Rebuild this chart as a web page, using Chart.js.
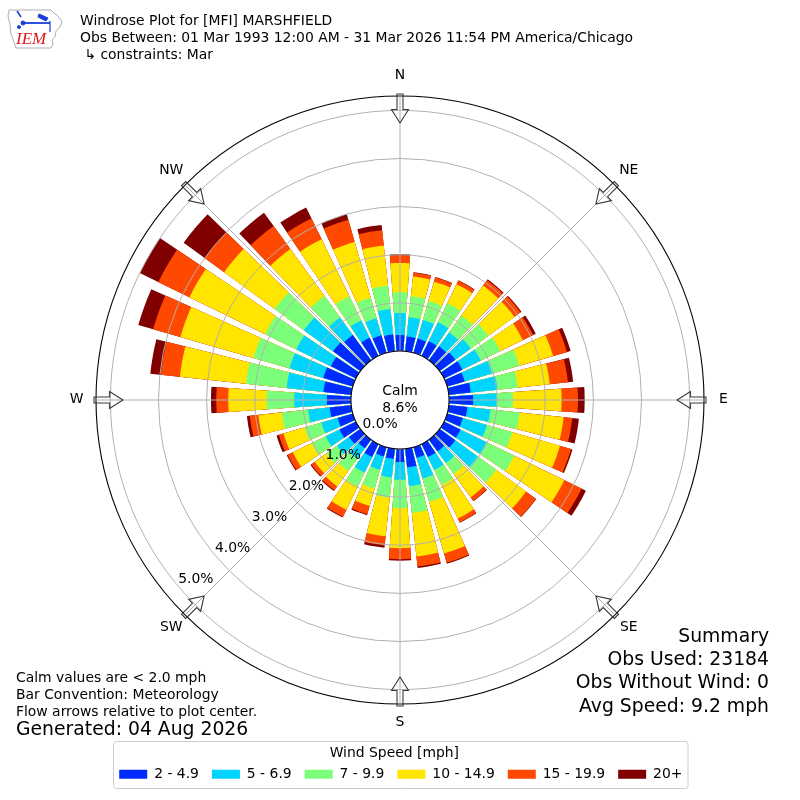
<!DOCTYPE html>
<html>
<head>
<meta charset="utf-8">
<title>Windrose Plot for [MFI] MARSHFIELD</title>
<script src="https://cdn.jsdelivr.net/npm/chart.js@4.4.1/dist/chart.umd.min.js"></script>
<style>
  html, body { margin: 0; padding: 0; background: #ffffff; }
  #wrap { position: relative; width: 800px; height: 800px; overflow: hidden; font-family: "DejaVu Sans", sans-serif; color: #000; }
  #chart { position: absolute; left: 0; top: 0; }
  .t { position: absolute; white-space: pre; font-family: "DejaVu Sans", sans-serif; color: #000; }
</style>
</head>
<body>
<div id="wrap">
  <canvas id="chart" width="800" height="800"></canvas>
  <svg style="position:absolute;left:6px;top:4px" width="62" height="48" viewBox="0 0 62 48">
    <path d="M3,6 L45,6 L48,9 L53,13 L56,18 L54,23 L50,27 L49,33 L46,36 L47,40 L45,44 L10,44 L8,38 L5,30 L4,20 L2,12 Z" fill="none" stroke="#9a9a9a" stroke-width="0.8"/>
    <g stroke="#1a3fd8" fill="#1a3fd8">
      <line x1="11" y1="7" x2="15" y2="13" stroke-width="1.6"/>
      <line x1="17" y1="19" x2="44" y2="19" stroke-width="1.8"/>
      <circle cx="17" cy="19" r="2"/>
      <path d="M33,10 L42,14 L40,17 L32,13 Z"/>
      <line x1="44" y1="17" x2="44" y2="28" stroke-width="1.2"/>
      <circle cx="13" cy="23" r="1.5"/>
    </g>
    <text x="10" y="40" font-family="Liberation Serif" font-style="italic" font-size="17" fill="#d7191c">IEM</text>
  </svg>
  <div class="t" style="left:80px; top:12.4px; font-size:13.9px; line-height:16.7px;">Windrose Plot for [MFI] MARSHFIELD
Obs Between: 01 Mar 1993 12:00 AM - 31 Mar 2026 11:54 PM America/Chicago
 ↳ constraints: Mar</div>
  <div class="t" style="left:16px; top:668.5px; font-size:13.9px; line-height:17px;">Calm values are &lt; 2.0 mph
Bar Convention: Meteorology
Flow arrows relative to plot center.</div>
  <div class="t" style="left:16px; top:718.3px; font-size:18.8px; line-height:22px;">Generated: 04 Aug 2026</div>
  <div class="t" style="right:31px; top:623.6px; font-size:18.8px; line-height:23.4px; text-align:right;">Summary
Obs Used: 23184
Obs Without Wind: 0
Avg Speed: 9.2 mph</div>
</div>
<script>
// ---------------- DATA ----------------
const dirDegrees = [0,10,20,30,40,50,60,70,80,90,100,110,120,130,140,150,160,170,180,190,200,210,220,230,240,250,260,270,280,290,300,310,320,330,340,350];
const speedBins = ['2 - 4.9', '5 - 6.9', '7 - 9.9', '10 - 14.9', '15 - 19.9', '20+'];
// frequency (%) of each speed bin per direction
const freq2to5   = [.33,.31,.31,.34,.36,.40,.42,.38,.46,.50, .39,.34,.38,.40,.30,.30,.23,.39,.27,.21, .20,.30,.22,.29,.38,.33,.45,.50,.58,.64, .58,.70,.65,.42,.38,.35];
const freq5to7   = [.46,.40,.40,.44,.36,.40,.43,.59,.56,.49, .48,.52,.60,.58,.30,.30,.45,.39,.37,.39, .29,.36,.27,.31,.32,.35,.45,.68,.77,.73, .80,.75,.45,.40,.37,.53];
const freq7to10  = [.43,.44,.41,.44,.43,.45,.45,.59,.42,.34, .61,.55,.64,.47,.28,.35,.50,.56,.59,.42, .41,.32,.32,.27,.32,.36,.55,.57,.85,.78, .72,.75,.55,.56,.44,.49];
const freq10to15 = [.61,.41,.42,.44,.77,.67,.52,.73,.67,1.01, .92,1.03,1.16,.77,.60,.77,1.12,.91,.83,.81, .37,.54,.39,.30,.44,.46,.49,.80,1.38,1.58, 1.75,1.30,1.21,1.32,1.21,.84];
const freq15to20 = [.16,.08,.09,.08,.14,.16,.24,.30,.38,.34, .18,.24,.40,.25,.09,.09,.20,.21,.23,.19, .18,.16,.10,.09,.12,.10,.18,.25,.40,.59, .72,.50,.59,.48,.48,.32];
const freq20plus = [.02,.01,.01,.01,.02,.02,.06,.08,.11,.14, .14,.03,.10,.01,.01,.01,.02,.03,.03,.05, .02,.02,.02,.02,.02,.05,.06,.11,.22,.32, .43,.54,.34,.25,.12,.11];
const calmLabel = '8.6%';
const ringValues = [0, 1, 2, 3, 4, 5];
const tickLabels = ['0.0%', '1.0%', '2.0%', '3.0%', '4.0%', '5.0%'];
const compassLabels = ['N', 'NE', 'E', 'SE', 'S', 'SW', 'W', 'NW'];

// ---------------- STYLE ----------------
const binColors = ['#002bff', '#00d4ff', '#7bff7b', '#ffe500', '#ff4800', '#800000'];
const R_MIN = -1.02, R_MAX = 5.3;
const BAR_WIDTH = 8, GAP_WIDTH = 2;
const FONT = '13.9px "DejaVu Sans", sans-serif';
const TICK_ANGLE = 230;      // compass direction of radial tick labels
const LEGEND_LEFT = 106.2;

Chart.defaults.font.family = '"DejaVu Sans", sans-serif';
Chart.defaults.color = '#000';

// stacking (cumulative) built from the per-bin arrays
const seriesByBin = [freq2to5, freq5to7, freq7to10, freq10to15, freq15to20, freq20plus];
const cumulative = seriesByBin.map((_, j) =>
  dirDegrees.map((d, k) => seriesByBin.slice(0, j + 1).reduce((s, arr) => s + arr[k], 0)));

// angular slots: bars of 8 deg separated by 2 deg gaps, N bar split across 0 deg
const slots = [];
slots.push({dir: 0, angle: BAR_WIDTH / 2});
for (let k = 1; k < dirDegrees.length; k++) {
  slots.push({dir: null, angle: GAP_WIDTH});
  slots.push({dir: k, angle: BAR_WIDTH});
}
slots.push({dir: null, angle: GAP_WIDTH});
slots.push({dir: 0, angle: BAR_WIDTH / 2});

const slotLabels = slots.map(s => s.dir === null ? '' : dirDegrees[s.dir] + '°');

const datasets = speedBins.map((label, j) => ({
  label: label,
  data: slots.map(s => s.dir === null ? 0 : cumulative[j][s.dir]),
  backgroundColor: slots.map(s => s.dir === null ? 'rgba(0,0,0,0)' : binColors[j]),
  borderWidth: 0,
  angle: (ctx) => slots[ctx.dataIndex].angle
}));

const roseDecor = {
  id: 'roseDecor',
  afterLayout(chart) {
    const lg = chart.legend;
    if (lg) { const dx = LEGEND_LEFT - lg.left; lg.left += dx; lg.right += dx; }
  },
  afterDraw(chart) {
    const s = chart.scales.r;
    const ctx = chart.ctx;
    const cx = s.xCenter, cy = s.yCenter;
    const R = s.drawingArea;
    const r0 = s.getDistanceFromCenterForValue(0);
    ctx.save();
    // calm circle
    ctx.beginPath();
    ctx.arc(cx, cy, r0, 0, Math.PI * 2);
    ctx.fillStyle = '#fff';
    ctx.fill();
    ctx.lineWidth = 1.1;
    ctx.strokeStyle = '#000';
    ctx.stroke();
    ctx.fillStyle = '#000';
    ctx.font = FONT;
    ctx.textAlign = 'center';
    ctx.textBaseline = 'middle';
    ctx.fillText('Calm', cx, cy - 9);
    ctx.fillText(calmLabel, cx, cy + 8);
    // radial tick labels
    ctx.textAlign = 'left';
    ctx.textBaseline = 'bottom';
    const ta = TICK_ANGLE * Math.PI / 180;
    ringValues.forEach((v, i) => {
      const d = s.getDistanceFromCenterForValue(v);
      ctx.fillText(tickLabels[i], cx + d * Math.sin(ta), cy - d * Math.cos(ta));
    });
    // direction labels and flow arrows
    ctx.textAlign = 'center';
    ctx.textBaseline = 'middle';
    compassLabels.forEach((lab, i) => {
      const a = i * 45 * Math.PI / 180;
      const lr = R + 19.5;
      ctx.fillStyle = '#000';
      ctx.fillText(lab, cx + lr * Math.sin(a), cy - lr * Math.cos(a) - 1);
      ctx.save();
      ctx.translate(cx, cy);
      ctx.rotate(a);
      ctx.beginPath();
      const tail = R + 2, base = R - 13.5, tip = R - 27;
      ctx.moveTo(-3, -tail);
      ctx.lineTo(3, -tail);
      ctx.lineTo(3, -base);
      ctx.lineTo(8.5, -base);
      ctx.lineTo(0, -tip);
      ctx.lineTo(-8.5, -base);
      ctx.lineTo(-3, -base);
      ctx.closePath();
      ctx.lineWidth = 1.1;
      ctx.strokeStyle = '#3a3a3a';
      ctx.stroke();
      ctx.restore();
    });
    // legend frame
    const x0 = 113.5, y0 = 741.5, x1 = 688, y1 = 788.5, rr = 3;
    ctx.beginPath();
    ctx.moveTo(x0 + rr, y0);
    ctx.lineTo(x1 - rr, y0);
    ctx.arcTo(x1, y0, x1, y0 + rr, rr);
    ctx.lineTo(x1, y1 - rr);
    ctx.arcTo(x1, y1, x1 - rr, y1, rr);
    ctx.lineTo(x0 + rr, y1);
    ctx.arcTo(x0, y1, x0, y1 - rr, rr);
    ctx.lineTo(x0, y0 + rr);
    ctx.arcTo(x0, y0, x0 + rr, y0, rr);
    ctx.lineWidth = 1;
    ctx.strokeStyle = '#cccccc';
    ctx.stroke();
    ctx.restore();
  }
};

new Chart(document.getElementById('chart'), {
  type: 'polarArea',
  data: { labels: slotLabels, datasets: datasets },
  options: {
    responsive: false,
    animation: false,
    events: [],
    layout: { padding: { top: 96, left: 96, right: 96, bottom: 8.75 } },
    scales: {
      r: {
        min: R_MIN,
        max: R_MAX,
        startAngle: 0,
        labels: compassLabels,
        afterBuildTicks: (sc) => {
          sc.ticks = ringValues.concat([R_MAX]).map(v => ({value: v}));
          sc.min = R_MIN;
          sc.max = R_MAX;
        },
        ticks: { display: false, stepSize: 1 },
        pointLabels: { display: false },
        grid: {
          circular: true,
          z: 1,
          color: (c) => (c.tick && c.tick.value === R_MAX) ? '#000000' : '#b0b0b0',
          lineWidth: (c) => (c.tick && c.tick.value === R_MAX) ? 1.1 : 1
        },
        angleLines: { display: true, color: '#b0b0b0', lineWidth: 1 },
        border: { display: false }
      }
    },
    plugins: {
      tooltip: { enabled: false },
      legend: {
        display: true,
        position: 'bottom',
        align: 'start',
        onClick: null,
        labels: {
          boxWidth: 28,
          boxHeight: 9,
          padding: 13,
          color: '#000',
          font: { size: 13.9, family: '"DejaVu Sans", sans-serif' },
          generateLabels: (chart) => chart.data.datasets.map((ds, i) => ({
            text: ds.label,
            fillStyle: binColors[i],
            strokeStyle: binColors[i],
            lineWidth: 0,
            hidden: false,
            datasetIndex: i,
            fontColor: '#000'
          }))
        },
        title: {
          display: true,
          text: 'Wind Speed [mph]',
          color: '#000',
          font: { size: 13.9, family: '"DejaVu Sans", sans-serif' },
          padding: { top: 42.05, bottom: -8.38 }
        }
      }
    }
  },
  plugins: [roseDecor]
});
</script>
</body>
</html>
